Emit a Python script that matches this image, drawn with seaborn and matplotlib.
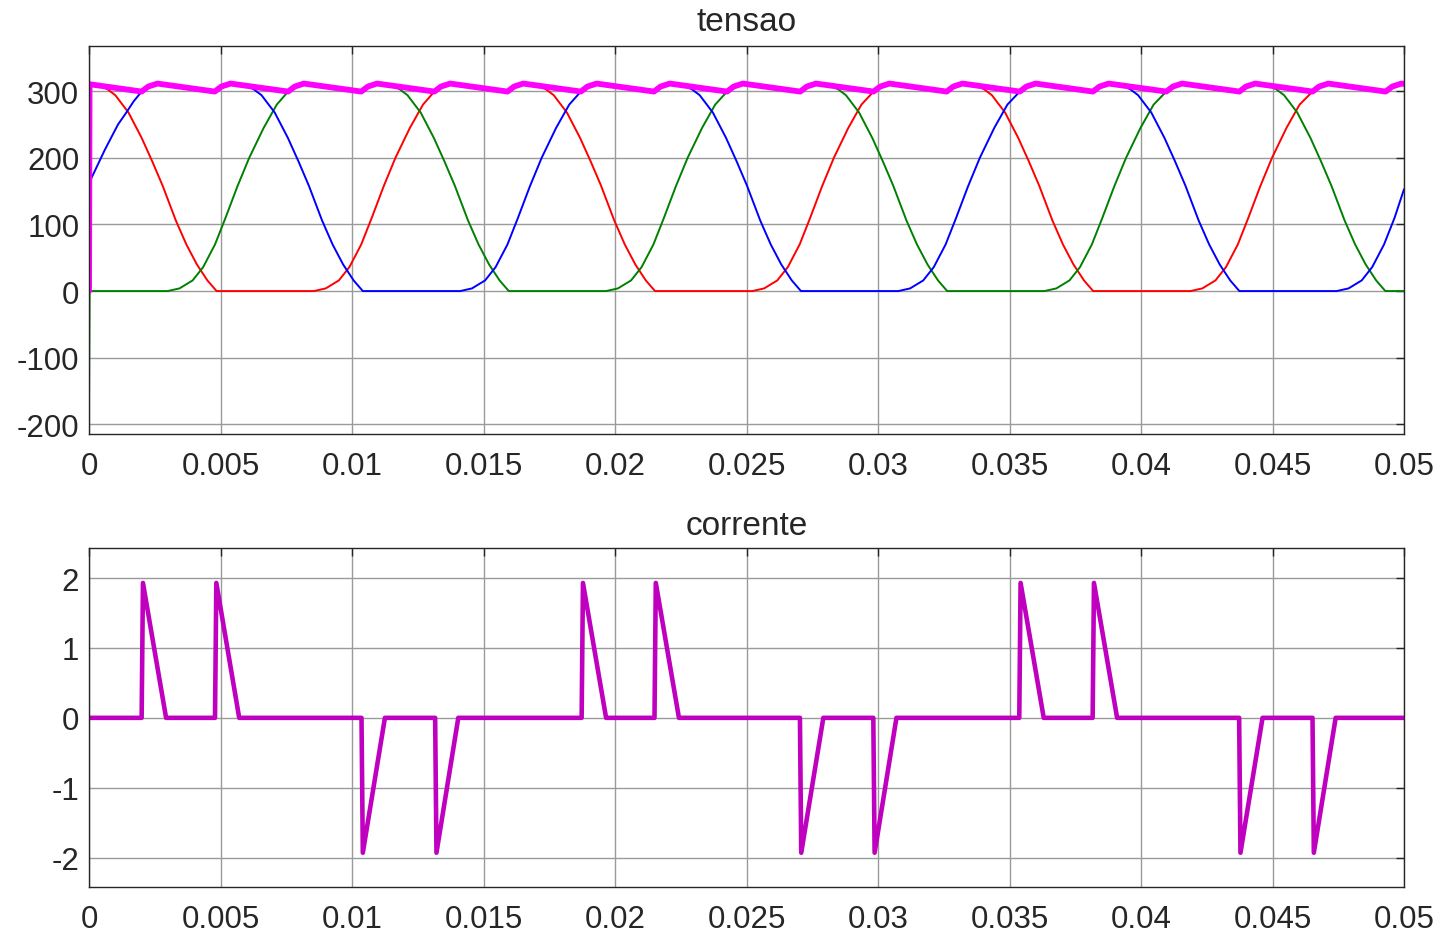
import matplotlib
matplotlib.use("Agg")
import matplotlib.pyplot as plt
import seaborn as sns
import numpy as np

# ---- data (time in ms) ----
t_red = [0.0, 0.4, 0.7, 1.0, 1.5, 2.0, 2.4, 2.8, 3.3, 3.7, 4.1, 4.5, 4.85, 8.55, 9.0, 9.5, 9.9, 10.35,
         10.75, 11.2, 11.65, 12.2, 12.7, 13.13, 13.38, 13.73, 15.91, 16.16, 16.51,
         16.67, 17.07, 17.37, 17.67, 18.17, 18.67, 19.07, 19.47, 19.97, 20.37, 20.77, 21.17, 21.52, 25.22,
         25.67, 26.17, 26.57, 27.02, 27.42, 27.87, 28.32, 28.87, 29.37, 29.83, 30.08, 30.43, 32.61, 32.86, 33.21,
         33.33, 33.73, 34.03, 34.33, 34.83, 35.33, 35.73, 36.13, 36.63, 37.03, 37.43, 37.83, 38.18, 41.88,
         42.33, 42.83, 43.23, 43.68, 44.08, 44.53, 44.98, 45.53, 46.03, 46.52, 46.77, 47.12, 49.30, 49.55,
         49.90, 50.0]
v_red = [310.6, 308.2, 303, 294, 268, 230, 195, 158, 106, 70, 40, 16, 0, 0, 4, 16, 36, 70,
         110, 157, 200, 245, 280, 299.5, 307, 311.5, 299.5, 307, 311.5,
         310.6, 308.2, 303, 294, 268, 230, 195, 158, 106, 70, 40, 16, 0, 0,
         4, 16, 36, 70, 110, 157, 200, 245, 280, 299.5, 307, 311.5, 299.5, 307, 311.5,
         310.8, 308.2, 303, 294, 268, 230, 195, 158, 106, 70, 40, 16, 0, 0,
         4, 16, 36, 70, 110, 157, 200, 245, 280, 299.5, 307, 311.5, 299.5, 307,
         311.5, 311.0]

t_green = [0.0, 0.02, 2.99, 3.44, 3.94, 4.34, 4.79, 5.19, 5.64, 6.09, 6.64, 7.14, 7.57, 7.82, 8.17,
           10.35, 10.60, 10.95,
           11.11, 11.51, 11.81, 12.11, 12.61, 13.11, 13.51, 13.91, 14.41, 14.81, 15.21, 15.61, 15.96, 19.66,
           20.11, 20.61, 21.01, 21.46, 21.86, 22.31, 22.76, 23.31, 23.81, 24.26, 24.51, 24.86, 27.04, 27.29, 27.64,
           27.78, 28.18, 28.48, 28.78, 29.28, 29.78, 30.18, 30.58, 31.08, 31.48, 31.88, 32.28, 32.63, 36.33,
           36.78, 37.28, 37.68, 38.13, 38.53, 38.98, 39.43, 39.98, 40.48, 40.96, 41.21, 41.56, 43.74, 43.99, 44.34,
           44.44, 44.84, 45.14, 45.44, 45.94, 46.44, 46.84, 47.24, 47.74, 48.14, 48.54, 48.94, 49.29, 50.0]
v_green = [-154, 0, 0, 4, 16, 36, 70, 110, 157, 200, 245, 280, 299.5, 307, 311.5,
           299.5, 307, 311.5,
           310.6, 308.2, 303, 294, 268, 230, 195, 158, 106, 70, 40, 16, 0, 0,
           4, 16, 36, 70, 110, 157, 200, 245, 280, 299.5, 307, 311.5, 299.5, 307, 311.5,
           310.8, 308.2, 303, 294, 268, 230, 195, 158, 106, 70, 40, 16, 0, 0,
           4, 16, 36, 70, 110, 157, 200, 245, 280, 299.5, 307, 311.5, 299.5, 307, 311.5,
           310.8, 308.2, 303, 294, 268, 230, 195, 158, 106, 70, 40, 16, 0, 0]

t_blue = [0.0, 0.6, 1.1, 1.4, 1.7, 2.00, 2.25, 2.60, 4.78, 5.03, 5.38,
          5.56, 5.96, 6.26, 6.56, 7.06, 7.56, 7.96, 8.36, 8.86, 9.26, 9.66, 10.06, 10.41, 14.11,
          14.56, 15.06, 15.46, 15.91, 16.31, 16.76, 17.21, 17.76, 18.26, 18.70, 18.95, 19.30, 21.48, 21.73, 22.08,
          22.22, 22.62, 22.92, 23.22, 23.72, 24.22, 24.62, 25.02, 25.52, 25.92, 26.32, 26.72, 27.07, 30.77,
          31.22, 31.72, 32.12, 32.57, 32.97, 33.42, 33.87, 34.42, 34.92, 35.39, 35.64, 35.99, 38.17, 38.42, 38.77,
          38.89, 39.29, 39.59, 39.89, 40.39, 40.89, 41.29, 41.69, 42.19, 42.59, 42.99, 43.39, 43.74, 47.44,
          47.89, 48.39, 48.79, 49.24, 49.64, 50.0]
v_blue = [162, 212, 250, 267, 285, 299.5, 307, 311.5, 299.5, 307, 311.5,
          310.5, 308.2, 303, 294, 268, 230, 195, 158, 106, 70, 40, 16, 0, 0,
          4, 16, 36, 70, 110, 157, 200, 245, 280, 299.5, 307, 311.5, 299.5, 307, 311.5,
          310.7, 308.2, 303, 294, 268, 230, 195, 158, 106, 70, 40, 16, 0, 0,
          4, 16, 36, 70, 110, 157, 200, 245, 280, 299.5, 307, 311.5, 299.5, 307, 311.5,
          310.8, 308.2, 303, 294, 268, 230, 195, 158, 106, 70, 40, 16, 0, 0,
          4, 16, 36, 70, 110, 153]

t_cap = [0.0, 0.02,
         2.00, 2.25, 2.60, 4.78, 5.03, 5.38, 7.57, 7.82, 8.17, 10.35, 10.60, 10.95,
         13.13, 13.38, 13.73, 15.91, 16.16, 16.51, 18.70, 18.95, 19.30, 21.48, 21.73, 22.08,
         24.26, 24.51, 24.86, 27.04, 27.29, 27.64, 29.83, 30.08, 30.43, 32.61, 32.86, 33.21,
         35.39, 35.64, 35.99, 38.17, 38.42, 38.77, 40.96, 41.21, 41.56, 43.74, 43.99, 44.34,
         46.52, 46.77, 47.12, 49.30, 49.55, 49.90, 50.0]
v_cap = [0, 310.5,
         299.5, 307, 311.5, 299.5, 307, 311.5, 299.5, 307, 311.5, 299.5, 307, 311.5,
         299.5, 307, 311.5, 299.5, 307, 311.5, 299.5, 307, 311.5, 299.5, 307, 311.5,
         299.5, 307, 311.5, 299.5, 307, 311.5, 299.5, 307, 311.5, 299.5, 307, 311.5,
         299.5, 307, 311.5, 299.5, 307, 311.5, 299.5, 307, 311.5, 299.5, 307, 311.5,
         299.5, 307, 311.5, 299.5, 307, 311.5, 311.0]

t_cur = [0.0, 2.00, 2.05, 2.93, 4.79, 4.84, 5.71, 10.36, 10.41, 11.25, 13.16, 13.21, 14.04,
         18.73, 18.78, 19.66, 21.50, 21.55, 22.43, 27.03, 27.08, 27.92, 29.82, 29.87, 30.70,
         35.37, 35.42, 36.30, 38.16, 38.21, 39.09, 43.73, 43.78, 44.62, 46.52, 46.57, 47.40, 50.0]
v_cur = [0, 0, 1.93, 0, 0, 1.93, 0, 0, -1.93, 0, 0, -1.93, 0,
         0, 1.93, 0, 0, 1.93, 0, 0, -1.93, 0, 0, -1.93, 0,
         0, 1.93, 0, 0, 1.93, 0, 0, -1.93, 0, 0, -1.93, 0, 0]

x_ticks = [0, 0.005, 0.01, 0.015, 0.02, 0.025, 0.03, 0.035, 0.04, 0.045, 0.05]
x_labels = ["0", "0.005", "0.01", "0.015", "0.02", "0.025", "0.03", "0.035", "0.04", "0.045", "0.05"]

sns.set_style("white")
plt.rcParams["font.family"] = ["Liberation Sans", "DejaVu Sans"]
plt.rcParams["axes.unicode_minus"] = False

fig = plt.figure(figsize=(14.43, 9.37), dpi=100)
ax1 = fig.add_axes([0.0617, 0.5358, 0.9113, 0.4144])
ax2 = fig.add_axes([0.0617, 0.0523, 0.9113, 0.3618])


def ms(t):
    return np.array(t) / 1000.0


# ---- tensao ----
sns.lineplot(x=ms(t_red), y=v_red, color="#ff0000", lw=1.4, estimator=None, sort=False, ax=ax1)
sns.lineplot(x=ms(t_green), y=v_green, color="#008000", lw=1.4, estimator=None, sort=False, ax=ax1)
sns.lineplot(x=ms(t_blue), y=v_blue, color="#0000ff", lw=1.4, estimator=None, sort=False, ax=ax1)
sns.lineplot(x=ms(t_cap), y=v_cap, color="#ff00ff", lw=4.2, estimator=None, sort=False, ax=ax1)
ax1.set_ylim(-214.5, 368.4)
ax1.set_yticks([-200, -100, 0, 100, 200, 300])
ax1.set_title("tensao", fontsize=24, pad=11)

# ---- corrente ----
sns.lineplot(x=ms(t_cur), y=v_cur, color="#bf00bf", lw=3.3, estimator=None, sort=False, ax=ax2)
ax2.set_ylim(-2.42, 2.43)
ax2.set_yticks([-2, -1, 0, 1, 2])
ax2.set_title("corrente", fontsize=24, pad=10)

for ax in (ax1, ax2):
    ax.set_xlim(0, 0.05)
    ax.set_xticks(x_ticks)
    ax.set_xticklabels(x_labels)
    ax.grid(True, color="#9a9a9a", lw=1.0)
    ax.tick_params(direction="in", length=6, width=1, colors="#262626", labelsize=22.5,
                   top=True, right=True)
    ax.tick_params(axis="x", pad=12)
    ax.tick_params(axis="y", pad=7)
    for s in ax.spines.values():
        s.set_color("#262626")
        s.set_linewidth(1.0)
        s.set_visible(True)
    ax.set_xlabel("")
    ax.set_ylabel("")

fig.savefig("out.png", dpi=100, facecolor="white")
